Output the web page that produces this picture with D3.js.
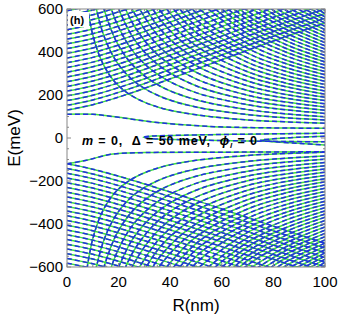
<!DOCTYPE html>
<html>
<head>
<meta charset="utf-8">
<script src="https://cdn.jsdelivr.net/npm/d3@7"></script>
<style>
  body { margin: 0; background: #fff; }
  text { font-family: "Liberation Sans", Arial, sans-serif; }
</style>
</head>
<body>
<div id="chart"></div>
<script>
// R columns shared by the fan curves (nm)
const fanRs = [100, 85, 70, 50, 36, 26, 19, 14, 10, 7];

// fan curves, energy (meV) read at each fanRs column, upper half
const fanUpper = [
  [69, 75, 84, 108, 141, 190, 255, 344, 479, 682],
  [84, 94, 109, 144, 194, 264, 359, 485, 677],
  [99, 112, 132, 178, 242, 332, 452, 612],
  [114, 131, 155, 211, 289, 397, 542, 732],
  [129, 149, 177, 243, 334, 460, 628],
  [144, 167, 199, 275, 378, 522, 710],
  [159, 185, 221, 306, 422, 583, 794],
  [174, 202, 243, 337, 466, 643],
  [189, 220, 265, 367, 508, 700],
  [204, 238, 287, 399, 552, 761],
  [219, 255, 308, 429, 594, 819],
  [234, 274, 330, 460, 637],
  [249, 291, 352, 491, 680],
  [264, 309, 373, 520, 720],
  [279, 327, 395, 551, 763],
  [294, 345, 417, 582, 806],
  [309, 362, 439, 612],
  [324, 381, 463, 648],
  [339, 399, 484, 678],
  [354, 416, 506, 708],
  [369, 434, 527, 738],
  [384, 452, 549, 768],
  [399, 469, 570, 798],
  [414, 487, 591, 828],
  [429, 505, 613],
  [444, 522, 634],
  [459, 540, 656],
  [474, 557, 677],
  [489, 575, 699],
  [504, 593, 720],
  [519, 610],
  [534, 628],
  [549, 646],
  [564, 663],
  [579, 681],
  [594, 699]
];

// fan curves, lower half
const fanLower = [
  [-66, -72, -81, -104, -137, -185, -249, -336, -468, -667],
  [-84, -94, -109, -144, -194, -264, -359, -485, -677],
  [-99, -112, -132, -178, -242, -332, -452, -612],
  [-114, -131, -155, -211, -289, -397, -542, -732],
  [-129, -149, -177, -243, -334, -460, -628],
  [-144, -167, -199, -275, -378, -522, -710],
  [-159, -185, -221, -306, -422, -583, -794],
  [-174, -202, -243, -337, -466, -643],
  [-189, -220, -265, -367, -508, -700],
  [-204, -238, -287, -399, -552, -761],
  [-219, -255, -308, -429, -594, -819],
  [-234, -274, -330, -460, -637],
  [-249, -291, -352, -491, -680],
  [-264, -309, -373, -520, -720],
  [-279, -327, -395, -551, -763],
  [-294, -345, -417, -582, -806],
  [-309, -362, -439, -612],
  [-324, -381, -463, -648],
  [-339, -399, -484, -678],
  [-354, -416, -506, -708],
  [-369, -434, -527, -738],
  [-384, -452, -549, -768],
  [-399, -469, -570, -798],
  [-414, -487, -591, -828],
  [-429, -505, -613],
  [-444, -522, -634],
  [-459, -540, -656],
  [-474, -557, -677],
  [-489, -575, -699],
  [-504, -593, -720],
  [-519, -610],
  [-534, -628],
  [-549, -646],
  [-564, -663],
  [-579, -681],
  [-594, -699]
];

// R columns of the slanted families (nm)
const slantRs = [0, 10, 25, 50, 75, 100];

// rising levels, upper half
const riseUpper = [
  [130, 155, 210, 320, 430, 535],
  [152, 177, 232, 342, 452, 557],
  [174, 199, 254, 364, 474, 579],
  [196, 221, 276, 386, 496, 601],
  [218, 243, 298, 408, 518, 623],
  [240, 265, 320, 430, 540, 645],
  [262, 287, 342, 452, 562, 667],
  [284, 309, 364, 474, 584, 689],
  [306, 331, 386, 496, 606],
  [328, 353, 408, 518, 628],
  [350, 375, 430, 540, 650],
  [372, 397, 452, 562, 672],
  [394, 419, 474, 584, 694],
  [416, 441, 496, 606],
  [438, 463, 518, 628],
  [460, 485, 540, 650],
  [482, 507, 562, 672],
  [504, 529, 584, 694],
  [526, 551, 606],
  [548, 573, 628],
  [570, 595, 650],
  [592, 617]
];

// falling levels, lower half
const fallLower = [
  [-120, -145, -195, -290, -390, -490],
  [-142, -167, -217, -312, -412, -512],
  [-164, -189, -239, -334, -434, -534],
  [-186, -211, -261, -356, -456, -556],
  [-208, -233, -283, -378, -478, -578],
  [-230, -255, -305, -400, -500, -600],
  [-252, -277, -327, -422, -522, -622],
  [-274, -299, -349, -444, -544, -644],
  [-296, -321, -371, -466, -566],
  [-318, -343, -393, -488, -588, -688],
  [-340, -365, -415, -510, -610],
  [-362, -387, -437, -532, -632],
  [-384, -409, -459, -554, -654],
  [-406, -431, -481, -576, -676],
  [-428, -453, -503, -598, -698],
  [-450, -475, -525, -620],
  [-472, -497, -547, -642],
  [-494, -519, -569, -664],
  [-516, -541, -591, -686],
  [-538, -563, -613],
  [-560, -585, -635],
  [-582, -607, -657]
];

// lowest levels and the loops near zero, [R, E] pairs
const lowUpper = [[0, 110], [10, 110], [20, 96], [35, 72], [55, 54], [80, 47], [100, 45]];
const lowLower = [[0, -120], [8, -102], [17, -76], [30, -68], [60, -66], [100, -64]];
const loopA = [[100, 22], [70, 18], [45, 13], [33, 9], [29.5, 3], [33, -3], [45, -8], [70, -14], [100, -18]];
const loopB = [[100, 8], [90, 4], [80, -4], [75, -10], [80, -17], [90, -25], [100, -33]];

const xTicks = [0, 20, 40, 60, 80, 100];
const yTicks = [-600, -400, -200, 0, 200, 400, 600];

const W = 340, H = 317;
const svg = d3.select("#chart").append("svg")
  .attr("width", W).attr("height", H);

const x = d3.scaleLinear().domain([0, 100]).range([67, 325]);
const y = d3.scaleLinear().domain([-600, 600]).range([267, 9]);

svg.append("clipPath").attr("id", "plotclip")
  .append("rect")
  .attr("x", 67).attr("y", 9)
  .attr("width", 258).attr("height", 258);

const line = d3.line()
  .x(d => x(d[0]))
  .y(d => y(d[1]))
  .curve(d3.curveCatmullRom.alpha(0.5));

function rowsToPts(rows, rs) {
  return rows.map(row => row.map((e, i) => [rs[i], e]));
}

let curves = [];
curves = curves.concat(rowsToPts(fanUpper, fanRs));
curves = curves.concat(rowsToPts(fanLower, fanRs));
curves = curves.concat(rowsToPts(riseUpper, slantRs));
curves = curves.concat(rowsToPts(fallLower, slantRs));
curves.push(lowUpper, lowLower, loopA, loopB);

const plot = svg.append("g").attr("clip-path", "url(#plotclip)");

// green solid first, blue dashed on top
plot.selectAll("path.g")
  .data(curves)
  .enter()
  .append("path")
  .attr("class", "g")
  .attr("d", line)
  .attr("fill", "none")
  .attr("stroke", "#3ee03e")
  .attr("stroke-width", 1.5);

plot.selectAll("path.b")
  .data(curves)
  .enter()
  .append("path")
  .attr("class", "b")
  .attr("d", line)
  .attr("fill", "none")
  .attr("stroke", "#2030e0")
  .attr("stroke-width", 1.5)
  .attr("stroke-dasharray", "5,3");

// frame
svg.append("rect")
  .attr("x", 67).attr("y", 9)
  .attr("width", 258).attr("height", 258)
  .attr("fill", "none")
  .attr("stroke", "#888")
  .attr("stroke-width", 1);

// ticks (inside, all four sides)
const tk = svg.append("g").attr("stroke", "#888").attr("stroke-width", 1);
d3.range(0, 101, 5).forEach(v => {
  const len = v % 20 === 0 ? 4 : 2;
  tk.append("line").attr("x1", x(v)).attr("x2", x(v)).attr("y1", 267).attr("y2", 267 - len);
  tk.append("line").attr("x1", x(v)).attr("x2", x(v)).attr("y1", 9).attr("y2", 9 + len);
});
d3.range(-600, 601, 50).forEach(v => {
  const len = v % 200 === 0 ? 4 : 2;
  tk.append("line").attr("y1", y(v)).attr("y2", y(v)).attr("x1", 67).attr("x2", 67 + len);
  tk.append("line").attr("y1", y(v)).attr("y2", y(v)).attr("x1", 325).attr("x2", 325 - len);
});

// tick labels
svg.selectAll("text.xt")
  .data(xTicks)
  .enter()
  .append("text")
  .attr("x", d => x(d))
  .attr("y", 287)
  .attr("text-anchor", "middle")
  .style("font-size", "15px")
  .text(d => d);

svg.selectAll("text.yt")
  .data(yTicks)
  .enter()
  .append("text")
  .attr("x", 63)
  .attr("y", d => y(d) + 5)
  .attr("text-anchor", "end")
  .style("font-size", "15px")
  .text(d => d < 0 ? "\u2212" + Math.abs(d) : d);

// axis titles
svg.append("text")
  .attr("x", 196).attr("y", 311)
  .attr("text-anchor", "middle")
  .style("font-size", "17px")
  .text("R(nm)");

svg.append("text")
  .attr("transform", "translate(20,138) rotate(-90)")
  .attr("text-anchor", "middle")
  .style("font-size", "17px")
  .text("E(meV)");

// panel tag
svg.append("rect")
  .attr("x", 68).attr("y", 12)
  .attr("width", 21).attr("height", 15)
  .attr("fill", "#fff");
svg.append("text")
  .attr("x", 70).attr("y", 24)
  .style("font-size", "11px")
  .style("font-weight", "bold")
  .text("(h)");

// parameter label
const lab = svg.append("text")
  .attr("x", 82).attr("y", 145)
  .attr("textLength", 175)
  .attr("lengthAdjust", "spacing")
  .style("font-size", "12.5px")
  .style("font-weight", "bold")
  .style("white-space", "pre");
lab.append("tspan").style("font-style", "italic").text("m");
lab.append("tspan").text(" = 0,  \u0394 = 50 meV,  ");
lab.append("tspan").style("font-style", "italic").text("\u03d5");
lab.append("tspan").style("font-style", "italic").style("font-size", "8px").attr("dy", 3).text("l");
lab.append("tspan").attr("dy", -3).text(" = 0");
</script>
</body>
</html>
